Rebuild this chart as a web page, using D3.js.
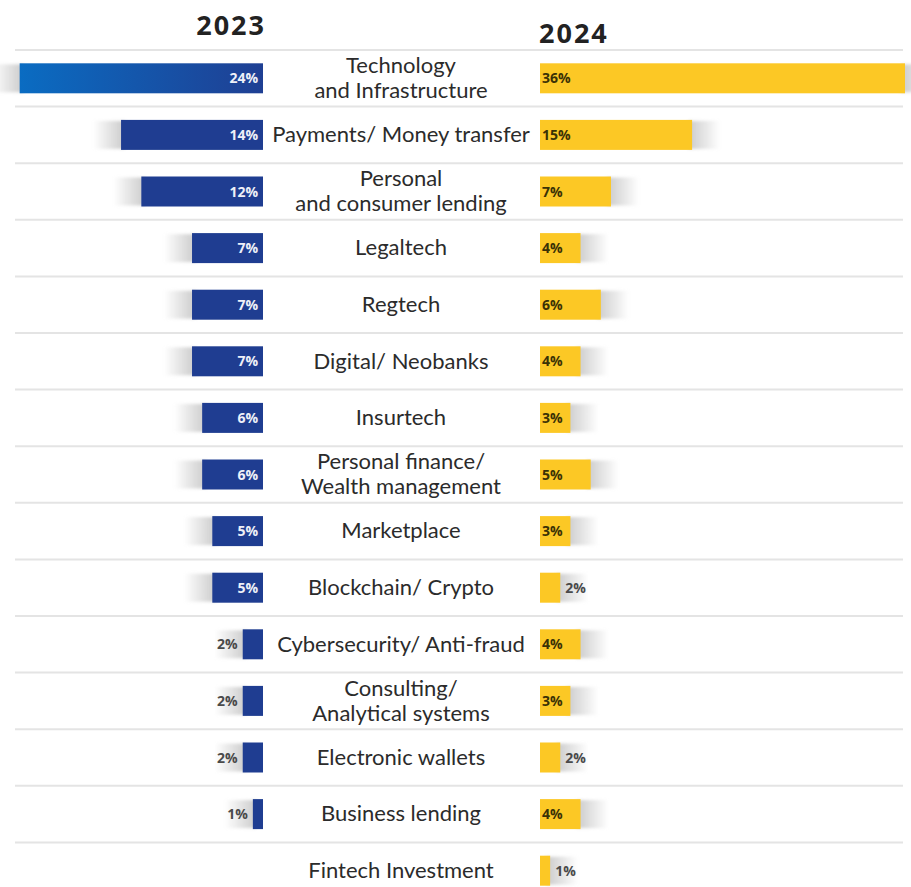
<!DOCTYPE html>
<html>
<head>
<meta charset="utf-8">
<script src="https://cdn.jsdelivr.net/npm/d3@7/dist/d3.min.js"></script>
<style>
  html, body { margin: 0; padding: 0; background: #ffffff; }
  svg { display: block; }
</style>
</head>
<body>
<div id="chart"></div>
<script>
// Fintech segments: share of companies by year
const categories = [
  "Technology\nand Infrastructure",
  "Payments/ Money transfer",
  "Personal\nand consumer lending",
  "Legaltech",
  "Regtech",
  "Digital/ Neobanks",
  "Insurtech",
  "Personal finance/\nWealth management",
  "Marketplace",
  "Blockchain/ Crypto",
  "Cybersecurity/ Anti-fraud",
  "Consulting/\nAnalytical systems",
  "Electronic wallets",
  "Business lending",
  "Fintech Investment"
];
const values2023 = [24, 14, 12, 7, 7, 7, 6, 6, 5, 5, 2, 2, 2, 1, null];
const values2024 = [36, 15, 7, 4, 6, 4, 3, 5, 3, 2, 4, 3, 2, 4, 1];
const years = ["2023", "2024"];

const W = 911, H = 887;
const leftBase = 263, rightBase = 540, centerX = 401;
const labelFont = "Lato, 'Open Sans', sans-serif";

const rows = categories.map((c, i) => ({ name: c, v23: values2023[i], v24: values2024[i], i }));

const svg = d3.select("#chart").append("svg")
  .attr("width", W).attr("height", H);

const defs = svg.append("defs");
const gL = defs.append("linearGradient").attr("id", "shadowL")
  .attr("x1", "0%").attr("x2", "100%");
gL.append("stop").attr("offset", "0%").attr("stop-color", "#bdbdbd").attr("stop-opacity", 0);
gL.append("stop").attr("offset", "100%").attr("stop-color", "#bdbdbd").attr("stop-opacity", 0.8);
const gR = defs.append("linearGradient").attr("id", "shadowR")
  .attr("x1", "0%").attr("x2", "100%");
gR.append("stop").attr("offset", "0%").attr("stop-color", "#bdbdbd").attr("stop-opacity", 0.8);
gR.append("stop").attr("offset", "100%").attr("stop-color", "#bdbdbd").attr("stop-opacity", 0);
const gTop = defs.append("linearGradient").attr("id", "topBlue")
  .attr("x1", "0%").attr("x2", "100%");
gTop.append("stop").attr("offset", "0%").attr("stop-color", "#0a6cc2");
gTop.append("stop").attr("offset", "100%").attr("stop-color", "#1f3f93");
defs.append("filter").attr("id", "soft")
  .attr("x", "-20%").attr("y", "-30%").attr("width", "140%").attr("height", "160%")
  .append("feGaussianBlur").attr("stdDeviation", 1.6);

const y = d3.scaleBand()
  .domain(rows.map(d => d.i))
  .range([50, 50 + 56.6 * rows.length]);

const len = d3.scaleLinear().domain([0, 36]).range([0, 365]);

const barH = 30;
const barY = d => y(d.i) + y.bandwidth() / 2 - barH / 2;
const midY = d => y(d.i) + y.bandwidth() / 2;

// separator lines above each row
svg.append("g").selectAll("line").data(rows).join("line")
  .attr("x1", 15).attr("x2", 903)
  .attr("y1", d => y(d.i)).attr("y2", d => y(d.i))
  .attr("stroke", "#e4e4e4").attr("stroke-width", 2);

// year titles
svg.append("text").text(years[0])
  .attr("x", 266).attr("y", 35).attr("text-anchor", "end")
  .attr("font-family", "'Open Sans', sans-serif").attr("font-weight", 700)
  .attr("font-size", 27).attr("letter-spacing", 2).attr("fill", "#222");
svg.append("text").text(years[1])
  .attr("x", 539).attr("y", 43).attr("text-anchor", "start")
  .attr("font-family", "'Open Sans', sans-serif").attr("font-weight", 700)
  .attr("font-size", 27).attr("letter-spacing", 2).attr("fill", "#222");

const left = rows.filter(d => d.v23 != null);
const right = rows.filter(d => d.v24 != null);

// soft shadows at the outer ends of the bars
svg.append("g").attr("filter", "url(#soft)").selectAll("rect").data(left).join("rect")
  .attr("x", d => leftBase - len(d.v23) - 28).attr("width", 32)
  .attr("y", d => barY(d) + 1).attr("height", barH - 2)
  .attr("fill", "url(#shadowL)");
svg.append("g").attr("filter", "url(#soft)").selectAll("rect").data(right).join("rect")
  .attr("x", d => rightBase + len(d.v24) - 4).attr("width", 32)
  .attr("y", d => barY(d) + 1).attr("height", barH - 2)
  .attr("fill", "url(#shadowR)");

// 2023 bars
svg.append("g").selectAll("rect").data(left).join("rect")
  .attr("x", d => leftBase - len(d.v23)).attr("width", d => len(d.v23))
  .attr("y", barY).attr("height", barH)
  .attr("fill", d => d.i === 0 ? "url(#topBlue)" : "#1f3d91");

// 2024 bars
svg.append("g").selectAll("rect").data(right).join("rect")
  .attr("x", rightBase).attr("width", d => len(d.v24))
  .attr("y", barY).attr("height", barH)
  .attr("fill", "#fcc825");

// value labels
const valFont = "'Open Sans', sans-serif";
svg.append("g").selectAll("text").data(left).join("text")
  .text(d => d.v23 + "%")
  .attr("x", d => d.v23 >= 3 ? leftBase - 5 : leftBase - len(d.v23) - 5)
  .attr("y", midY).attr("dy", "0.36em")
  .attr("text-anchor", "end")
  .attr("font-family", valFont).attr("font-weight", 700).attr("font-size", 14)
  .attr("fill", d => d.v23 >= 3 ? "#eef0f8" : "#4a4a4a");
svg.append("g").selectAll("text").data(right).join("text")
  .text(d => d.v24 + "%")
  .attr("x", d => d.v24 >= 3 ? rightBase + 2 : rightBase + len(d.v24) + 5)
  .attr("y", midY).attr("dy", "0.36em")
  .attr("text-anchor", "start")
  .attr("font-family", valFont).attr("font-weight", 700).attr("font-size", 14)
  .attr("fill", d => d.v24 >= 3 ? "#3a3205" : "#4a4a4a");

// category names in the middle column
const names = svg.append("g").selectAll("text").data(rows).join("text")
  .attr("x", centerX).attr("y", midY)
  .attr("text-anchor", "middle")
  .attr("font-family", labelFont).attr("font-size", 22)
  .attr("fill", "#2b2b2b");
names.each(function (d) {
  const lines = d.name.split("\n");
  const t = d3.select(this);
  const lh = 25;
  lines.forEach((ln, k) => {
    t.append("tspan").text(ln)
      .attr("x", centerX)
      .attr("y", midY(d) + (k - (lines.length - 1) / 2) * lh)
      .attr("dy", "0.33em");
  });
});
</script>
</body>
</html>
